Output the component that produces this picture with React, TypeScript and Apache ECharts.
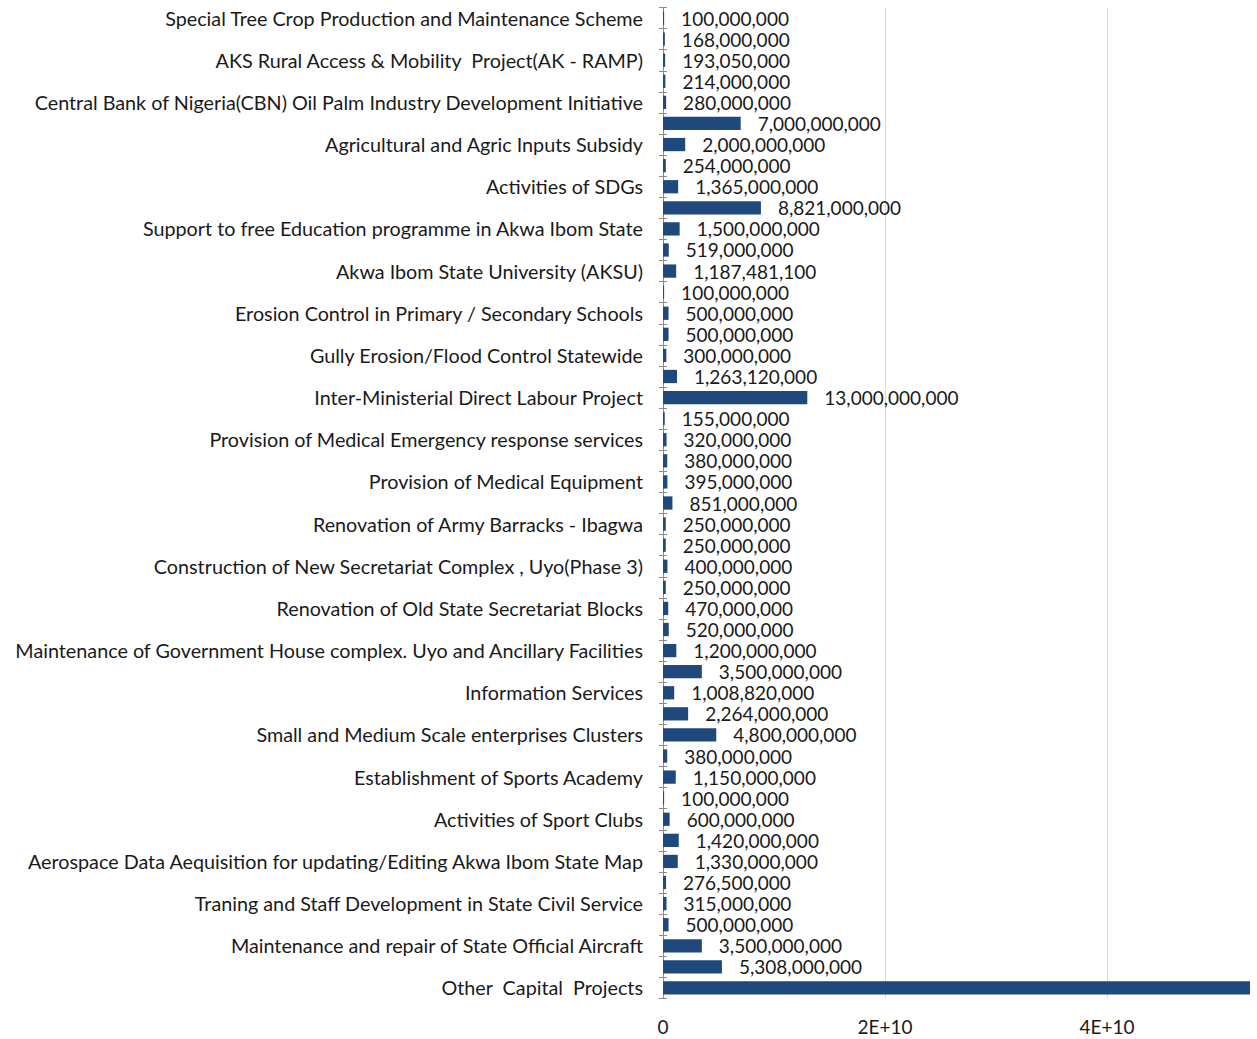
import React, { useEffect, useRef } from "react";
import * as echarts from "echarts";

const categories: string[] = [
  "Special Tree Crop Production and Maintenance Scheme", "",
  "AKS Rural Access & Mobility  Project(AK - RAMP)", "",
  "Central Bank of Nigeria(CBN) Oil Palm Industry Development Initiative", "",
  "Agricultural and Agric Inputs Subsidy", "",
  "Activities of SDGs", "",
  "Support to free Education programme in Akwa Ibom State", "",
  "Akwa Ibom State University (AKSU)", "",
  "Erosion Control in Primary / Secondary Schools", "",
  "Gully Erosion/Flood Control Statewide", "",
  "Inter-Ministerial Direct Labour Project", "",
  "Provision of Medical Emergency response services", "",
  "Provision of Medical Equipment", "",
  "Renovation of Army Barracks - Ibagwa", "",
  "Construction of New Secretariat Complex , Uyo(Phase 3)", "",
  "Renovation of Old State Secretariat Blocks", "",
  "Maintenance of Government House complex. Uyo and Ancillary Facilities", "",
  "Information Services", "",
  "Small and Medium Scale enterprises Clusters", "",
  "Establishment of Sports Academy", "",
  "Activities of Sport Clubs", "",
  "Aerospace Data Aequisition for updating/Editing Akwa Ibom State Map", "",
  "Traning and Staff Development in State Civil Service", "",
  "Maintenance and repair of State Official Aircraft", "",
  "Other  Capital  Projects",
];

const amounts: number[] = [
  100000000, 168000000, 193050000, 214000000, 280000000, 7000000000,
  2000000000, 254000000, 1365000000, 8821000000, 1500000000, 519000000,
  1187481100, 100000000, 500000000, 500000000, 300000000, 1263120000,
  13000000000, 155000000, 320000000, 380000000, 395000000, 851000000,
  250000000, 250000000, 400000000, 250000000, 470000000, 520000000,
  1200000000, 3500000000, 1008820000, 2264000000, 4800000000, 380000000,
  1150000000, 100000000, 600000000, 1420000000, 1330000000, 276500000,
  315000000, 500000000, 3500000000, 5308000000, 58000000000,
];

const axisTicks: number[] = [0, 20000000000, 40000000000, 60000000000];
const shownTickLabels: number[] = [0, 20000000000, 40000000000];

const FONT = "Lato";

export default function App() {
  const ref = useRef<HTMLDivElement>(null);
  useEffect(() => {
    if (!ref.current) return;
    const chart = echarts.init(ref.current, undefined, { renderer: "svg" });
    const lastIdx = amounts.length - 1;
    chart.setOption({
      animation: false,
      textStyle: { fontFamily: FONT },
      grid: { left: 663, top: 7.5, width: 666, height: 991, containLabel: false },
      xAxis: {
        type: "value",
        min: axisTicks[0],
        max: axisTicks[axisTicks.length - 1],
        interval: axisTicks[1] - axisTicks[0],
        axisLine: { show: false },
        axisTick: { show: false },
        splitLine: { show: true, lineStyle: { color: "#d9d9d9", width: 1 } },
        axisLabel: {
          fontFamily: FONT,
          fontSize: 19,
          color: "#1a1a1a",
          margin: 18,
          showMaxLabel: false,
          formatter: (v: number) =>
            shownTickLabels.indexOf(v) < 0 ? "" : v === 0 ? "0" : `${v / 1e10}E+10`,
        },
      },
      yAxis: [
        {
          type: "category",
          inverse: true,
          data: categories,
          axisLine: { show: true, lineStyle: { color: "#8c8c8c", width: 1 } },
          axisTick: { show: true, length: 4, lineStyle: { color: "#8c8c8c" } },
          axisLabel: {
            interval: 0,
            fontFamily: FONT,
            fontSize: 19.75,
            color: "#1a1a1a",
            margin: 20,
          },
        },
        {
          type: "category",
          inverse: true,
          position: "left",
          data: categories,
          axisLine: { show: false },
          axisTick: { show: true, inside: true, length: 4, lineStyle: { color: "#8c8c8c" } },
          axisLabel: { show: false },
        },
      ],
      series: [
        {
          type: "bar",
          yAxisIndex: 0,
          barCategoryGap: "37%",
          itemStyle: { color: "#1F497D" },
          data: amounts.map((v, i) =>
            i === lastIdx ? { value: v, label: { show: false } } : v
          ),
          label: {
            show: true,
            position: "right",
            distance: 17,
            fontFamily: FONT,
            fontSize: 19,
            color: "#1a1a1a",
            formatter: (p: any) => Number(p.value).toLocaleString("en-US"),
          },
        },
      ],
    });
    return () => chart.dispose();
  }, []);
  return (
    <div
      style={{
        position: "fixed",
        left: 0,
        top: 0,
        width: 1250,
        height: 1039,
        overflow: "hidden",
        background: "#fff",
      }}
    >
      <div ref={ref} style={{ width: 1400, height: 1039 }} />
    </div>
  );
}
